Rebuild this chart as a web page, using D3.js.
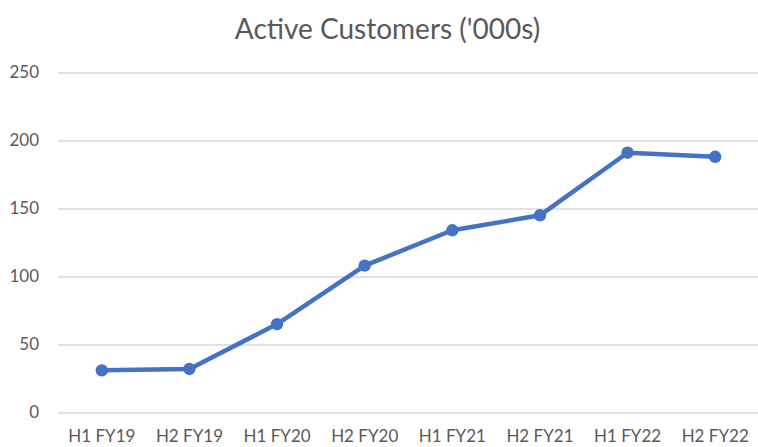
<!DOCTYPE html>
<html>
<head>
<meta charset="utf-8">
<script src="https://cdn.jsdelivr.net/npm/d3@7"></script>
<style>
  html, body { margin: 0; padding: 0; background: #fff; }
  svg { display: block; }
</style>
</head>
<body>
<div id="chart"></div>
<script>
  'use strict';

  var periods = ['H1 FY19', 'H2 FY19', 'H1 FY20', 'H2 FY20',
                 'H1 FY21', 'H2 FY21', 'H1 FY22', 'H2 FY22'];
  var customers = [31, 32, 65, 108, 134, 145, 191, 188];
  var yTicks = [0, 50, 100, 150, 200, 250];
  var title = "Active Customers ('000s)";

  var width = 758,
      height = 447,
      margin = { top: 72.5, right: -1, bottom: 34.5, left: 58 },
      textColor = '#595959',
      gridColor = '#d9d9d9',
      lineColor = '#4472c4',
      font = 'Lato, "Open Sans", sans-serif';

  var svg = d3.select('#chart').append('svg')
    .attr('width', width)
    .attr('height', height);

  var x = d3.scaleBand()
    .domain(periods)
    .range([margin.left, width - margin.right]);

  var y = d3.scaleLinear()
    .domain([0, 250])
    .range([height - margin.bottom, margin.top]);

  // title
  svg.append('text')
    .attr('x', 387.5)
    .attr('y', 38.5)
    .attr('text-anchor', 'middle')
    .style('font-family', font)
    .style('font-size', '28px')
    .style('fill', textColor)
    .text(title);

  // y axis: gridlines + labels, no domain line
  var yAxis = svg.append('g')
    .attr('transform', 'translate(' + margin.left + ',0)')
    .call(d3.axisLeft(y)
      .tickValues(yTicks)
      .tickSize(-(width - margin.left))
      .tickPadding(19));
  yAxis.select('.domain').remove();
  yAxis.selectAll('line')
    .attr('stroke', gridColor)
    .attr('stroke-width', 1.4);
  yAxis.selectAll('text')
    .style('font-family', font)
    .style('font-size', '17px')
    .style('fill', textColor);

  // x axis labels (kept just inside the bottom edge)
  var xAxis = svg.append('g')
    .attr('transform', 'translate(0,' + (height - margin.bottom) + ')')
    .call(d3.axisBottom(x).tickSize(0).tickPadding(17));
  xAxis.select('.domain').remove();
  xAxis.selectAll('text')
    .style('font-family', font)
    .style('font-size', '17px')
    .style('fill', textColor);

  var cx = function(d, i) { return x(periods[i]) + x.bandwidth() / 2; };

  var line = d3.line()
    .x(cx)
    .y(function(d) { return y(d); });

  svg.append('path')
    .datum(customers)
    .attr('d', line)
    .attr('fill', 'none')
    .attr('stroke', lineColor)
    .attr('stroke-width', 4.5)
    .attr('stroke-linejoin', 'round');

  svg.append('g').selectAll('circle')
    .data(customers)
    .join('circle')
      .attr('cx', cx)
      .attr('cy', function(d) { return y(d); })
      .attr('r', 6.2)
      .attr('fill', lineColor);
</script>
</body>
</html>
